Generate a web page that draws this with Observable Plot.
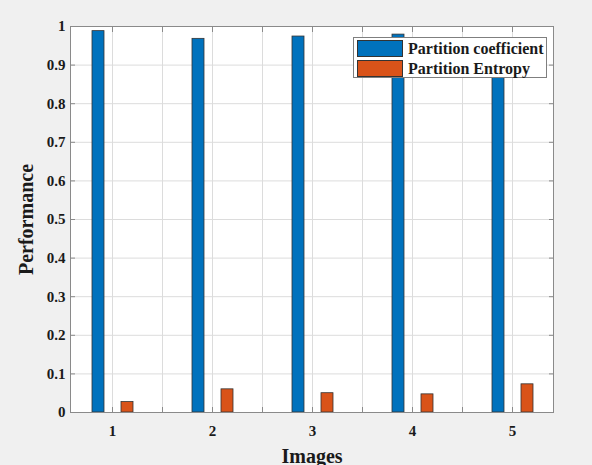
<!DOCTYPE html>
<html>
<head>
<meta charset="utf-8">
<script src="https://cdn.jsdelivr.net/npm/d3@7"></script>
<script src="https://cdn.jsdelivr.net/npm/@observablehq/plot@0.6"></script>
<style>
  html, body { margin: 0; padding: 0; background: #f0f0f0; }
  #wrap { position: relative; width: 592px; height: 465px; overflow: hidden; }
  #legend { position: absolute; left: 353px; top: 37px; width: 194px; height: 41px;
    background: #fff; border: 1px solid #7f7f7f; font-family: "Liberation Serif", serif;
    font-weight: bold; font-size: 16px; color: #1a1a1a; box-sizing: border-box; }
  .row { display: flex; align-items: center; height: 19px; margin-left: 3px; margin-top: 1px; }
  .sw { width: 46px; height: 17px; box-sizing: border-box; border: 1px solid #333; margin-right: 5px; flex: none; }
</style>
</head>
<body>
<div id="wrap"></div>
<script>
const categories = [1, 2, 3, 4, 5];
const coefficient = [0.988, 0.968, 0.974, 0.979, 0.970];
const entropy = [0.027, 0.060, 0.050, 0.047, 0.073];
const seriesNames = ["Partition coefficient", "Partition Entropy"];
const seriesColors = ["#0072BD", "#D95319"];
const yTicks = [0, 0.1, 0.2, 0.3, 0.4, 0.5, 0.6, 0.7, 0.8, 0.9, 1];

const offsets = [-0.14, 0.15];
const halfW = 0.06;
const rows = [];
categories.forEach((c, i) => {
  rows.push({cat: c, series: seriesNames[0], value: coefficient[i], k: 0});
  rows.push({cat: c, series: seriesNames[1], value: entropy[i], k: 1});
});
const gridX = d3.range(1, 5.01, 0.5);

const font = "Liberation Serif, serif";
const chart = Plot.plot({
  width: 592, height: 465,
  marginLeft: 70, marginRight: 39, marginTop: 26, marginBottom: 53,
  style: {background: "transparent", fontFamily: font, fontWeight: "bold", fontSize: "15px", color: "#1a1a1a"},
  x: {type: "linear", domain: [0.58, 5.41]},
  y: {domain: [0, 1]},
  color: {domain: seriesNames, range: seriesColors},
  marks: [
    Plot.frame({fill: "#fff", stroke: "none"}),
    Plot.gridX(gridX, {stroke: "#dcdcdc", strokeOpacity: 1}),
    Plot.gridY(yTicks, {stroke: "#dcdcdc", strokeOpacity: 1}),
    Plot.rectY(rows, {
      x1: d => d.cat + offsets[d.k] - halfW,
      x2: d => d.cat + offsets[d.k] + halfW,
      y: "value", fill: "series", stroke: "#333", strokeWidth: 0.8
    }),
    Plot.frame({stroke: "#8a8a8a", strokeWidth: 1}),
    Plot.axisX(gridX, {anchor: "bottom", tickSize: -5, stroke: "#8a8a8a", text: null, label: null}),
    Plot.axisX(gridX, {anchor: "top", tickSize: -5, stroke: "#8a8a8a", text: null, label: null}),
    Plot.axisX(categories, {anchor: "bottom", tickSize: 0, tickPadding: 13, tickFormat: d => String(d),
      label: "Images", labelAnchor: "center", labelArrow: "none", labelOffset: 50, fontSize: 15}),
    Plot.axisY(yTicks, {anchor: "left", tickSize: -5, stroke: "#8a8a8a", tickPadding: 10,
      tickFormat: d => String(+d.toFixed(1)),
      label: "Performance", labelAnchor: "center", labelArrow: "none", labelOffset: 52}),
    Plot.axisY(yTicks, {anchor: "right", tickSize: -5, stroke: "#8a8a8a", text: null, label: null})
  ]
});
chart.querySelectorAll("[aria-label='x-axis label'] text, [aria-label='y-axis label'] text").forEach(t => {
  t.setAttribute("font-size", "20px");
});
const wrap = document.getElementById("wrap");
wrap.appendChild(chart);
const legend = document.createElement("div");
legend.id = "legend";
seriesNames.forEach((n, i) => {
  const r = document.createElement("div");
  r.className = "row";
  const s = document.createElement("div");
  s.className = "sw";
  s.style.background = seriesColors[i];
  const t = document.createElement("span");
  t.textContent = n;
  r.appendChild(s); r.appendChild(t);
  legend.appendChild(r);
});
wrap.appendChild(legend);
</script>
</body>
</html>
